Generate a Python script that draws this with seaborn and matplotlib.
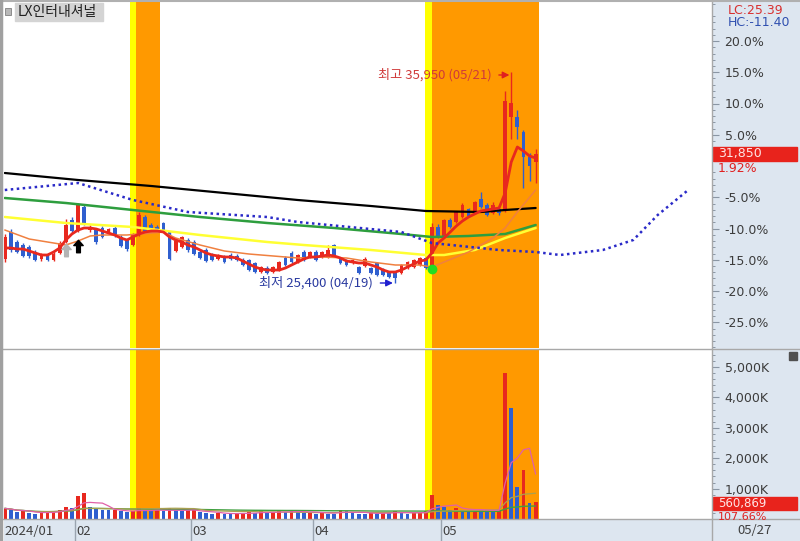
import numpy as np
import pandas as pd
import matplotlib
matplotlib.use("Agg")
import matplotlib.pyplot as plt
import seaborn as sns
from matplotlib.patches import Rectangle
from matplotlib.lines import Line2D
from matplotlib.path import Path

## 데이터: LX인터내셔널 일봉 (2024/01/16 ~ 05/27)

종목명 = "LX인터내셔널"
휴장일 = ["2024-02-09", "2024-02-12", "2024-03-01", "2024-04-10",
         "2024-05-01", "2024-05-06", "2024-05-15"]
dates = pd.bdate_range("2024-01-16", "2024-05-27")
dates = dates[~dates.isin(pd.to_datetime(휴장일))]

opens = [26600, 27950, 27450, 27300, 27200, 26950, 26600, 26850, 26550, 26900,
         27450, 28550, 28000, 29200, 28050, 28050, 28150, 27950, 28150, 27700,
         27550, 27300, 27800, 28700, 28300, 28200, 28400, 27950, 27000, 27200,
         27550, 27450, 26950, 27050, 26800, 26600, 26700, 26800, 26750, 26550,
         26550, 26400, 25950, 26150, 25950, 26050, 26650, 26900, 26450, 26950,
         26700, 26950, 26700, 26700, 27300, 26650, 26550, 26400, 26200, 26250,
         26150, 26400, 26100, 25950, 25950, 25900, 26150, 26200, 26300, 26650,
         26250, 28200, 27700, 28550, 28450, 28700, 29100, 28950, 29600, 29300,
         28900, 29100, 29000, 33700, 33700, 32950, 31700, 31450]
highs = [27850, 28100, 27550, 27400, 27300, 27050, 26900, 26900, 26950, 27500,
         28600, 28700, 29400, 29300, 28300, 28150, 28250, 28150, 28250, 27800,
         27600, 27900, 28950, 28800, 28400, 28300, 28450, 28000, 27600, 27750,
         27650, 27550, 27050, 27150, 26900, 26850, 26800, 26900, 26850, 26650,
         26600, 26450, 26250, 26250, 26250, 26500, 26750, 27000, 26850, 27050,
         27000, 27050, 27000, 27300, 27350, 26700, 26600, 26600, 26250, 26700,
         26200, 26450, 26150, 26000, 26000, 26350, 26500, 26600, 26700, 26700,
         28400, 28350, 28600, 28650, 29000, 29400, 29150, 29500, 29950, 29400,
         29450, 29150, 35000, 35950, 34050, 33050, 31900, 32100]
lows = [26450, 26950, 26900, 26700, 26650, 26500, 26500, 26500, 26500, 26850,
        27400, 27900, 27950, 28300, 27950, 27350, 27650, 27900, 27700, 27200,
        27000, 27250, 27750, 27950, 27950, 27950, 27950, 26550, 26950, 27150,
        26950, 26800, 26600, 26450, 26500, 26550, 26400, 26550, 26500, 26250,
        26000, 25900, 25900, 25850, 25900, 26000, 26250, 26400, 26400, 26500,
        26650, 26500, 26650, 26650, 26750, 26350, 26250, 26350, 25850, 26200,
        25850, 25750, 25750, 25650, 25400, 25850, 26100, 26150, 26250, 26100,
        26200, 27650, 27650, 28150, 28400, 28650, 28700, 28900, 29150, 28750,
        28850, 28800, 28950, 32600, 32600, 30150, 30500, 30400]
closes = [27700, 27050, 26950, 26750, 26750, 26550, 26800, 26550, 26850, 27400,
          28300, 28000, 29300, 28350, 28200, 27450, 27700, 28100, 27750, 27250,
          27100, 27850, 28800, 28000, 28000, 28050, 28000, 26600, 27500, 27700,
          27050, 26850, 26650, 26500, 26550, 26800, 26450, 26600, 26550, 26300,
          26050, 25950, 26200, 25900, 26200, 26450, 26300, 26450, 26800, 26550,
          26950, 26550, 26950, 27050, 26800, 26400, 26300, 26550, 25900, 26600,
          25900, 25800, 25800, 25700, 25650, 26300, 26450, 26550, 26650, 26150,
          28200, 27700, 28550, 28200, 28950, 29300, 28750, 29450, 29200, 28800,
          29300, 28900, 34500, 34400, 33200, 31700, 31250, 31850]
volumes = [350000, 300000, 220000, 250000, 200000, 180000, 210000, 230000, 260000, 310000,
           400000, 350000, 750000, 850000, 380000, 330000, 300000, 280000, 300000, 250000,
           220000, 260000, 360000, 300000, 250000, 280000, 250000, 350000, 300000, 250000,
           280000, 300000, 220000, 200000, 180000, 200000, 170000, 160000, 180000, 200000,
           220000, 200000, 250000, 200000, 220000, 260000, 220000, 280000, 250000, 200000,
           220000, 180000, 220000, 180000, 170000, 300000, 250000, 200000, 180000, 160000,
           200000, 180000, 220000, 200000, 250000, 200000, 180000, 200000, 220000, 250000,
           800000, 450000, 400000, 300000, 350000, 300000, 280000, 320000, 300000, 280000,
           250000, 280000, 4800000, 3650000, 1050000, 1600000, 520963, 560869]

# 이동평균선
ma5 = [27150, 27150, 27100, 27100, 27000, 26900, 26800, 26800, 26950, 27150,
       27550, 27850, 28050, 28150, 28150, 28100, 28000, 27900, 27800, 27650,
       27550, 27700, 27850, 27950, 28000, 28000, 27950, 27700, 27550, 27450,
       27300, 27200, 27050, 26900, 26800, 26750, 26700, 26700, 26650, 26500,
       26350, 26200, 26100, 26050, 26050, 26050, 26150, 26300, 26450, 26600,
       26700, 26700, 26750, 26800, 26750, 26650, 26500, 26450, 26400, 26400,
       26300, 26200, 26050, 25950, 25950, 26050, 26200, 26350, 26500, 26550,
       26900, 27400, 27650, 27950, 28250, 28500, 28700, 28850, 29000, 29050,
       29100, 29150, 29900, 31450, 32200, 32000, 31750, 31650]
ma20_x = [0, 4, 8, 10, 12, 14, 16, 20, 24, 26, 28, 32, 36, 40, 44, 48, 52, 56,
          60, 64, 68, 70, 72, 76, 80, 82, 84, 87]
ma20 = [28050, 27600, 27400, 27300, 27500, 27750, 27800, 27800, 27900, 27950,
        27650, 27300, 27000, 26850, 26750, 26650, 26700, 26650, 26450, 26300,
        26300, 26200, 26450, 26950, 27650, 28150, 28950, 30050]
ma60_x = [0, 10, 21, 32, 43, 49, 60, 69, 72, 77, 82, 87]
ma60 = [28700, 28400, 28200, 27800, 27450, 27300, 27050, 26800, 26800, 27050, 27650, 28150]
ma120_x = [0, 10, 21, 32, 43, 54, 65, 70, 76, 82, 87]
ma120 = [29650, 29400, 29050, 28700, 28400, 28150, 27850, 27700, 27750, 27850, 28300]
ma240_x = [0, 12, 24, 36, 48, 60, 69, 78, 82, 87]
ma240 = [30900, 30550, 30250, 29900, 29550, 29250, 29000, 28950, 29050, 29150]
선행_x = [0, 12, 21, 30, 43, 48, 65, 70, 81, 87, 91, 98, 103, 107, 112]
선행 = [30050, 30400, 29550, 28950, 28700, 28450, 27950, 27400, 27050, 26950,
        26800, 27050, 27550, 28800, 30050]

# 신호 구간 (노랑 시작, 주황 시작, 끝) 과 신호 표시
신호구간 = [(20.5, 21.5, 25.5), (68.9, 70.0, 87.5)]
회색화살표 = (10, 27050)
검정화살표 = (12, 27250)
녹색점 = (70, 26100)

## 스타일
sns.set_style("white")
plt.rcParams["font.family"] = ["Noto Sans CJK KR", "DejaVu Sans"]
plt.rcParams["axes.unicode_minus"] = False

RED, BLUE = "#e8281e", "#2f5fcf"
STRIP = "#dde6f0"
NUM = "DejaVu Sans"   # 오른쪽 숫자 표시용 (줄 높이가 작음)
W, H = 800, 541


def box(x0, y0, x1, y1):
    return [x0 / W, 1 - y1 / H, (x1 - x0) / W, (y1 - y0) / H]


fig = plt.figure(figsize=(8, 5.41), dpi=100)
fig.patches.append(Rectangle((712 / W, 0), 88 / W, 1, transform=fig.transFigure,
                             color=STRIP, zorder=-5))
ax_p = fig.add_axes(box(4, 1, 712, 348))
ax_v = fig.add_axes(box(4, 349, 712, 519))
ax_d = fig.add_axes(box(4, 519, 712, 541))

x = np.arange(len(closes))
o, h, l, c = map(np.array, (opens, highs, lows, closes))
vol = np.array(volumes)
XL = (-0.13, 115.9)

for ax in (ax_p, ax_v):
    for y0, o0, o1 in 신호구간:
        ax.axvspan(y0, o0, color="#ffff00", lw=0, zorder=0.5)
        ax.axvspan(o0, o1, color="#ff9900", lw=0, zorder=0.5)

## 가격 패널
col = np.where(c >= o, RED, BLUE)
ax_p.vlines(x, l, h, colors=col, lw=1, zorder=3)
ax_p.bar(x, np.maximum(np.abs(c - o), 40), bottom=np.minimum(o, c), width=0.62,
         color=col, lw=0, zorder=3)

sns.lineplot(x=ma240_x, y=ma240, ax=ax_p, color="black", lw=1.6, zorder=4)
sns.lineplot(x=ma120_x, y=ma120, ax=ax_p, color="#2e9e3e", lw=1.8, zorder=4)
sns.lineplot(x=ma60_x, y=ma60, ax=ax_p, color="#ffff33", lw=1.8, zorder=4)
sns.lineplot(x=ma20_x, y=ma20, ax=ax_p, color="#f08040", lw=1.1, zorder=4)
sns.lineplot(x=x, y=ma5, ax=ax_p, color=RED, lw=2.0, zorder=4)
ax_p.plot(선행_x, 선행, color="#2a2ac8", lw=1.8, linestyle=(0, (1, 1.4)), zorder=4)

arrow = Path([(0, 1), (0.75, 0.15), (0.3, 0.15), (0.3, -1), (-0.3, -1),
              (-0.3, 0.15), (-0.75, 0.15), (0, 1)],
             [Path.MOVETO] + [Path.LINETO] * 6 + [Path.CLOSEPOLY])
ax_p.plot(*회색화살표, marker=arrow, ms=9, color="#b4b4b4", zorder=5)
ax_p.plot(*검정화살표, marker=arrow, ms=9, color="black", zorder=5)
ax_p.plot(*녹색점, marker="o", ms=6, color="#22dd22", zorder=5)

hi_i, lo_i = int(np.argmax(h)), int(np.argmin(l))
ax_p.annotate(f"최고 {h[hi_i]:,} ({dates[hi_i]:%m/%d})", xy=(hi_i - 0.3, h[hi_i] - 150),
              xytext=(-18, 0), textcoords="offset pixels", ha="right", va="center",
              color="#d03a3a", fontsize=9.5, zorder=6,
              arrowprops=dict(arrowstyle="-|>", color="#e02020", lw=1,
                              mutation_scale=10, shrinkA=3, shrinkB=0))
ax_p.annotate(f"최저 {l[lo_i]:,} ({dates[lo_i]:%m/%d})", xy=(lo_i - 0.4, l[lo_i]),
              xytext=(-20, 0), textcoords="offset pixels", ha="right", va="center",
              color="#2a3aa0", fontsize=9.5, zorder=6,
              arrowprops=dict(arrowstyle="-|>", color="#2020d0", lw=1,
                              mutation_scale=10, shrinkA=3, shrinkB=0))

base = closes[-2]
major = [20, 15, 10, 5, -5, -10, -15, -20, -25]
ax_p.set_xlim(*XL)
ax_p.set_ylim(22150, 39500)
ax_p.yaxis.tick_right()
ax_p.set_yticks([base * (1 + p / 100) for p in major], [f"{p:.1f}%" for p in major])
ax_p.set_yticks([base * (1 + p / 100) for p in range(-29, 27) if p % 5], minor=True)
ax_p.set_xticks([])

## 거래량 패널
vcol = [RED] + [RED if vol[i] >= vol[i - 1] else BLUE for i in range(1, len(vol))]
ax_v.bar(x, vol, width=0.62, color=vcol, lw=0, zorder=3)
vs = pd.Series(vol, dtype=float)
sns.lineplot(x=x, y=vs.rolling(60, min_periods=1).mean().values, ax=ax_v,
             color="#40a040", lw=1.0, zorder=4)
sns.lineplot(x=x, y=vs.rolling(20, min_periods=1).mean().values, ax=ax_v,
             color="#a8a050", lw=0.9, zorder=4)
sns.lineplot(x=x, y=vs.rolling(5, min_periods=1).mean().values, ax=ax_v,
             color="#e060a8", lw=0.9, zorder=4)
ax_v.set_xlim(*XL)
ax_v.set_ylim(0, 5.59e6)
ax_v.yaxis.tick_right()
vt = [1e6, 2e6, 3e6, 4e6, 5e6]
ax_v.set_yticks(vt, [f"{int(v / 1000):,}K" for v in vt])
ax_v.set_yticks(np.arange(2e5, 5.5e6, 2e5), minor=True)
ax_v.set_xticks([])

for ax in (ax_p, ax_v):
    ax.set_facecolor("white")
    for s in ax.spines.values():
        s.set_visible(False)
    ax.tick_params(axis="y", which="major", direction="out", length=5, width=0.8,
                   color="#8a96a4", labelsize=9, labelcolor="#3c3c3c", pad=4)
    ax.tick_params(axis="y", which="minor", direction="out", length=2.5, width=0.7,
                   color="#8a96a4")
    for lbl in ax.get_yticklabels():
        lbl.set_fontfamily(NUM)
    ax.set_ylabel("")

## 날짜 축
ax_d.set_facecolor(STRIP)
ax_d.set_xlim(*XL)
ax_d.set_ylim(0, 1)
ax_d.set_xticks([])
ax_d.set_yticks([])
for s in ax_d.spines.values():
    s.set_visible(False)
months = pd.Series(dates.month)
first_idx = [i for i in range(1, len(dates)) if months[i] != months[i - 1]]
ax_d.text(0.0, 0.45, f"{dates[0]:%Y/%m}", ha="left", va="center", fontsize=9.5, color="#404040")
for m in first_idx:
    ax_d.axvline(m - 0.5, color="#9aa4b0", lw=1)
    ax_d.text(m - 0.25, 0.45, f"{dates[m]:%m}", ha="left", va="center",
              fontsize=9.5, color="#404040")
fig.text(737 / W, 1 - 530 / H, f"{dates[-1]:%m/%d}", ha="left", va="center",
         fontsize=9.5, color="#404040")

## 구분선, 제목, 현재가 표시
def fline(x0, y0, x1, y1, color="#a8a8a8", lw=1.0):
    fig.add_artist(Line2D([x0 / W, x1 / W], [1 - y0 / H, 1 - y1 / H],
                          transform=fig.transFigure, color=color, lw=lw, zorder=7))

fline(0, 348.5, 800, 348.5)
fline(0, 519, 800, 519)
fline(712, 0, 712, 541)
fline(0, 0.5, 800, 0.5, "#b0b0b0", 1.5)
fline(1.2, 0, 1.2, 541, "#a0a0a0", 2.5)

fig.patches.append(Rectangle((5 / W, 1 - 15 / H), 6 / W, 7 / H, transform=fig.transFigure,
                             facecolor="#b8b8b8", edgecolor="#808080", lw=0.6, zorder=6))
fig.patches.append(Rectangle((15 / W, 1 - 21 / H), 88 / W, 18 / H, transform=fig.transFigure,
                             color="#d4d4d4", zorder=6))
fig.text(18 / W, 1 - 12 / H, 종목명, ha="left", va="center", fontsize=10,
         color="#202020", zorder=8)
fig.patches.append(Rectangle((789 / W, 1 - 360 / H), 8 / W, 8 / H, transform=fig.transFigure,
                             color="#505050", zorder=6))

last, lc = closes[-1], (closes[-1] / min(lows) - 1) * 100
hc = (closes[-1] / max(highs) - 1) * 100
fig.text(728 / W, 1 - 10 / H, f"LC:{lc:.2f}", fontsize=9, color="#d83030", va="center",
         fontfamily=NUM)
fig.text(728 / W, 1 - 23 / H, f"HC:{hc:.2f}", fontsize=9, color="#3050b0", va="center",
         fontfamily=NUM)

yd = ax_p.transData.transform((0, last))[1]
fig.patches.append(Rectangle((713 / W, (yd - 7) / H), 84 / W, 14 / H,
                             transform=fig.transFigure, color="#e8231c", zorder=6))
fig.text(718 / W, yd / H, f"{last:,}", fontsize=9, color="#ffe4e4", va="center",
         zorder=8, fontfamily=NUM)
fig.text(718 / W, (yd - 14) / H, f"{(last / base - 1) * 100:.2f}%", fontsize=9,
         color="#e02020", va="center", zorder=8, fontfamily=NUM)

yv = ax_v.transData.transform((0, volumes[-1]))[1] - 1.5
fig.patches.append(Rectangle((713 / W, (yv - 6.5) / H), 84 / W, 13 / H,
                             transform=fig.transFigure, color="#e8231c", zorder=6))
fig.text(718 / W, yv / H, f"{volumes[-1]:,}", fontsize=8.5, color="#ffe4e4", va="center",
         zorder=8, fontfamily=NUM)
fig.text(718 / W, (yv - 13.5) / H, f"{volumes[-1] / volumes[-2] * 100:.2f}%", fontsize=8,
         color="#e02020", va="center", zorder=8, fontfamily=NUM)

fig.savefig("out.png", dpi=100)
